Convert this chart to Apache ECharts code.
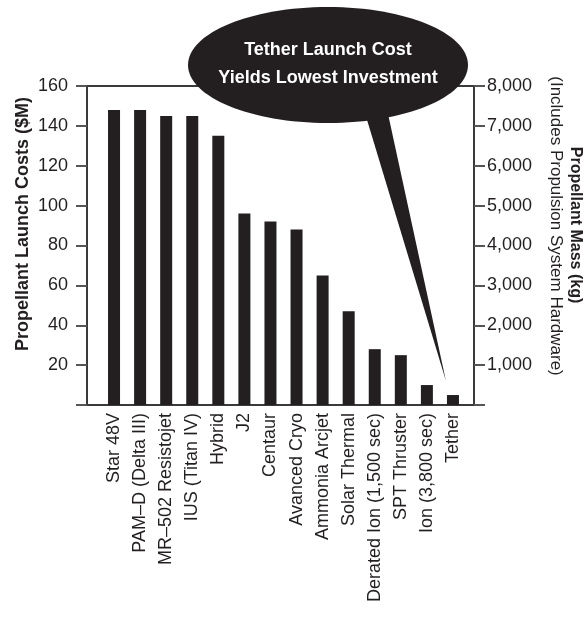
<!DOCTYPE html>
<html>
<head>
<meta charset="utf-8">
<script src="https://cdn.jsdelivr.net/npm/echarts@6/dist/echarts.min.js"></script>
<style>
  html, body { margin: 0; padding: 0; background: #fff; }
  #launch_cost_chart { width: 584px; height: 618px; }
</style>
</head>
<body>
<div id="launch_cost_chart"></div>
<script>
// propulsion options, left to right
const categories = [
  'Star 48V', 'PAM\u2013D (Delta III)', 'MR\u2013502 Resistojet', 'IUS (Titan IV)', 'Hybrid',
  'J2', 'Centaur', 'Avanced Cryo', 'Ammonia Arcjet', 'Solar Thermal',
  'Derated Ion (1,500 sec)', 'SPT Thruster', 'Ion (3,800 sec)', 'Tether'
];
// launch cost in $M
const launchCosts = [148, 148, 145, 145, 135, 96, 92, 88, 65, 47, 28, 25, 10, 5];

const costTicks = { min: 0, max: 160, interval: 20 };
const massTicks = { min: 0, max: 8000, interval: 1000 };

const leftTitle = 'Propellant Launch Costs ($M)';
const rightTitle = 'Propellant Mass (kg)';
const rightSubtitle = '(Includes Propulsion System Hardware)';
const bubbleLines = ['Tether Launch Cost', 'Yields Lowest Investment'];

const ink = '#231f20';
const font = '"Liberation Sans", Arial, sans-serif';

const chartDom = document.getElementById('launch_cost_chart');
const myChart = echarts.init(chartDom);

const option = {
  animation: false,
  backgroundColor: '#fff',
  grid: [
    // outer box + both value axes
    { left: 87, right: 110, top: 86, bottom: 213, outerBoundsMode: 'none', containLabel: false,
      show: true, borderColor: '#3a3a3a', borderWidth: 2, backgroundColor: 'transparent' },
    // bars sit a little inside the box
    { left: 101, right: 118, top: 86, bottom: 213, outerBoundsMode: 'none', containLabel: false }
  ],
  xAxis: [
    { gridIndex: 0, type: 'value', show: false, min: 0, max: 1 },
    {
      gridIndex: 1,
      type: 'category',
      data: categories,
      axisLine: { show: false },
      axisTick: { show: false },
      axisLabel: { rotate: 90, margin: 8, fontSize: 18, color: ink, fontFamily: font, interval: 0 }
    }
  ],
  yAxis: [
    {
      gridIndex: 0,
      type: 'value',
      position: 'left',
      min: costTicks.min, max: costTicks.max, interval: costTicks.interval,
      splitLine: { show: false },
      axisLine: { show: true, lineStyle: { color: '#3a3a3a', width: 2 } },
      axisTick: { show: true, length: 11, lineStyle: { color: '#555', width: 2 } },
      axisLabel: {
        margin: 19, fontSize: 18, color: ink, fontFamily: font,
        formatter: (v) => (v === 0 ? '' : v)
      }
    },
    {
      gridIndex: 0,
      type: 'value',
      position: 'right',
      min: massTicks.min, max: massTicks.max, interval: massTicks.interval,
      splitLine: { show: false },
      axisLine: { show: true, lineStyle: { color: '#3a3a3a', width: 2 } },
      axisTick: { show: true, length: 11, lineStyle: { color: '#555', width: 2 } },
      axisLabel: {
        margin: 13, fontSize: 18, color: ink, fontFamily: font,
        formatter: (v) => (v === 0 ? '' : v.toLocaleString('en-US'))
      }
    },
    { gridIndex: 1, type: 'value', show: false, min: costTicks.min, max: costTicks.max }
  ],
  series: [
    {
      name: 'Launch cost',
      type: 'bar',
      xAxisIndex: 1,
      yAxisIndex: 2,
      barWidth: 12,
      itemStyle: { color: ink },
      data: launchCosts
    }
  ]
};

myChart.setOption(option);

// axis titles sit a bit above the middle of the box, so place them by hand
// speech bubble pointing at the Tether bar
const tip = myChart.convertToPixel({ xAxisIndex: 1, yAxisIndex: 2 }, [categories.length - 1, 12]);
myChart.setOption({
  graphic: [
    {
      type: 'text',
      x: 23, y: 224,
      rotation: Math.PI / 2,
      style: { text: leftTitle, fill: ink, font: 'bold 18px ' + font, align: 'center', verticalAlign: 'middle' }
    },
    {
      type: 'text',
      x: 575, y: 225,
      rotation: -Math.PI / 2,
      style: { text: rightTitle, fill: ink, font: 'bold 16px ' + font, align: 'center', verticalAlign: 'middle' }
    },
    {
      type: 'text',
      x: 556, y: 226,
      rotation: -Math.PI / 2,
      style: { text: rightSubtitle, fill: ink, font: '17px ' + font, align: 'center', verticalAlign: 'middle' }
    },
    {
      type: 'polygon',
      shape: { points: [[361, 100], [385, 100], [tip[0] - 7, tip[1]]] },
      style: { fill: ink },
      z: 100
    },
    {
      type: 'ellipse',
      shape: { cx: 328, cy: 65, rx: 140, ry: 58 },
      style: { fill: ink },
      z: 100
    },
    {
      type: 'text',
      x: 328, y: 64,
      style: {
        text: bubbleLines.join('\n'),
        fill: '#fff',
        font: 'bold 18px ' + font,
        lineHeight: 28,
        align: 'center',
        verticalAlign: 'middle'
      },
      z: 101
    }
  ]
});
</script>
</body>
</html>
